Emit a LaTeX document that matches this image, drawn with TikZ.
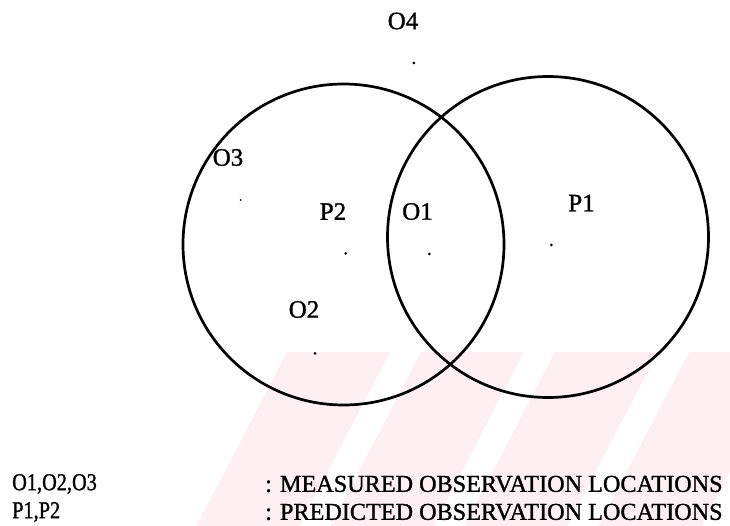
\documentclass[tikz,border=0pt]{standalone}
\usepackage{graphicx}
\usepackage{fontspec}
\setmainfont[FakeBold=1.2]{Liberation Serif}
\definecolor{wmpink}{RGB}{254,239,242}
\begin{document}
\begin{tikzpicture}[x=1pt,y=-1pt,
  lbl/.style={inner sep=0pt,font=\fontsize{25}{28}\selectfont},
  legend/.style={inner sep=0pt,anchor=west,font=\fontsize{24.2}{28}\selectfont},
  ring/.style={line width=2.7pt,draw=black},
  dot/.style={circle,fill=black,inner sep=0pt,minimum size=3pt}]
\useasboundingbox (0,0) rectangle (730,526);
% watermark stripes
\begin{scope}
  \clip (0,352) rectangle (730,526);
  \foreach \k in {0,...,4}{
    \pgfmathsetmacro{\xa}{287+134*\k}
    \fill[wmpink] (\xa,352) -- ({\xa+103},352) -- ({\xa+103-90.5},526) -- ({\xa-90.5},526) -- cycle;
  }
\end{scope}
% circles
\coordinate (cl) at (343.5,244.5);
\coordinate (cr) at (548,237);
\draw[ring] (cl) circle (160.5);
\draw[ring] (cr) circle (160.5);
% points
\node[dot] (d4) at (413.8,63) {};
\node[dot,minimum size=2pt] (d3) at (240.5,200) {};
\node[dot] (dp2) at (345.7,253.3) {};
\node[dot] (do1) at (429.3,254) {};
\node[dot] (dp1) at (551.4,245) {};
\node[dot] (do2) at (315,353.3) {};
% labels
\node[lbl] (o4) at (403,21) {O4};
\node[lbl] (o3) at (228,157.5) {O3};
\node[lbl] (p2) at (333,211.5) {P2};
\node[lbl] (o1) at (417.5,211.5) {O1};
\node[lbl] (p1) at (581.5,203) {P1};
\node[lbl] (o2) at (304,309.5) {O2};
% legend
\node[legend] (k1) at (12,484) {\scalebox{0.84}[1]{O1,O2,O3}};
\node[legend] (v1) at (265,484) {: MEASURED OBSERVATION LOCATIONS};
\node[legend] (k2) at (12,512) {\scalebox{0.84}[1]{P1,P2}};
\node[legend] (v2) at (265,512) {: PREDICTED OBSERVATION LOCATIONS};
\end{tikzpicture}
\end{document}
